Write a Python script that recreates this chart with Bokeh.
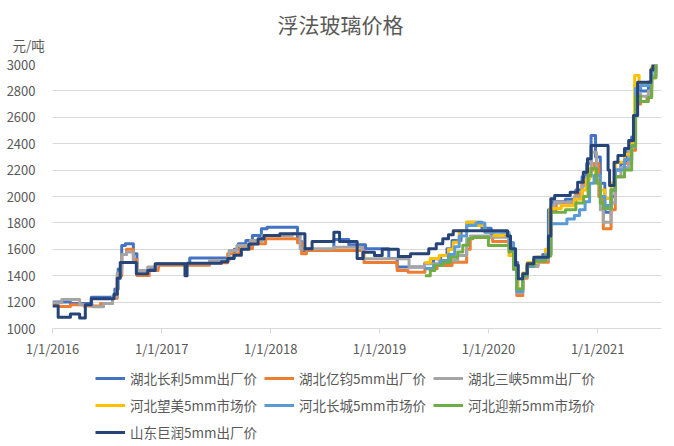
import pandas as pd
from bokeh.plotting import figure
from bokeh.layouts import column
from bokeh.models import FixedTicker, Legend, LegendItem, Title, Range1d
from bokeh.embed import file_html
from bokeh.resources import INLINE

title_text = "浮法玻璃价格"
unit_text = "元/吨"
x_tick_dates = ["2016-01-01", "2017-01-01", "2018-01-01", "2019-01-01", "2020-01-01", "2021-01-01"]
x_tick_labels = ["1/1/2016", "1/1/2017", "1/1/2018", "1/1/2019", "1/1/2020", "1/1/2021"]
y_ticks = [1000, 1200, 1400, 1600, 1800, 2000, 2200, 2400, 2600, 2800, 3000]

names = ["湖北长利5mm出厂价", "湖北亿钧5mm出厂价", "湖北三峡5mm出厂价",
         "河北望美5mm市场价", "河北长城5mm市场价", "河北迎新5mm市场价",
         "山东巨润5mm出厂价"]
colors = ["#4472C4", "#ED7D31", "#A5A5A5", "#FFC000", "#5B9BD5", "#70AD47", "#264478"]

# 湖北长利
cl_dates = ["2016-01-01", "2016-03-01", "2016-05-10", "2016-07-28", "2016-08-08", "2016-08-20", "2016-09-01",
            "2016-09-28", "2016-10-10", "2016-11-20", "2016-12-20", "2017-04-05", "2017-09-01", "2017-09-15",
            "2017-10-10", "2017-11-01", "2017-12-01", "2017-12-20", "2018-04-01", "2018-04-15", "2018-08-01",
            "2018-09-20", "2018-11-15", "2019-02-01", "2019-03-01", "2019-06-01", "2019-07-01", "2019-07-25",
            "2019-08-15", "2019-09-01", "2019-10-01", "2019-10-20", "2019-12-10", "2020-01-10", "2020-03-10",
            "2020-03-25", "2020-04-08", "2020-04-25", "2020-05-10", "2020-06-01", "2020-07-01", "2020-07-20",
            "2020-08-01", "2020-09-15", "2020-10-20", "2020-11-10", "2020-11-25", "2020-12-10", "2020-12-25",
            "2021-01-10", "2021-01-25", "2021-02-15", "2021-03-01", "2021-03-20", "2021-04-10", "2021-04-25",
            "2021-05-08", "2021-05-25", "2021-06-20", "2021-07-01", "2021-07-15"]
cl_vals = [1200, 1190, 1237, 1300, 1450, 1629, 1642,
           1566, 1440, 1460, 1490, 1535, 1600, 1642,
           1667, 1705, 1755, 1767, 1660, 1590, 1674,
           1634, 1604, 1530, 1465, 1492, 1528, 1553,
           1604, 1667, 1742, 1805, 1760, 1705, 1650,
           1500, 1288, 1400, 1480, 1520, 1560, 1900,
           1960, 1980, 2050, 2150, 2250, 2462, 2300,
           2100, 1881, 2000, 2200, 2250, 2350, 2450,
           2850, 2800, 2830, 2950, 3020]

# 湖北亿钧
yj_dates = ["2016-01-01", "2016-01-20", "2016-03-01", "2016-04-15", "2016-06-10", "2016-07-20", "2016-08-05",
            "2016-08-20", "2016-09-05", "2016-09-28", "2016-10-10", "2016-11-20", "2016-12-20", "2017-06-10",
            "2017-08-10", "2017-09-20", "2017-11-01", "2017-12-15", "2018-04-01", "2018-04-15", "2018-05-01",
            "2018-11-10", "2019-03-01", "2019-04-07", "2019-06-02", "2019-07-13", "2019-09-01", "2019-10-20",
            "2019-11-01", "2020-01-15", "2020-03-10", "2020-03-25", "2020-04-05", "2020-04-25", "2020-05-10",
            "2020-06-15", "2020-07-20", "2020-07-28", "2020-08-15", "2020-10-20", "2020-11-10", "2020-12-01",
            "2020-12-20", "2021-01-05", "2021-01-20", "2021-02-15", "2021-03-01", "2021-04-01", "2021-04-25",
            "2021-05-08", "2021-05-25", "2021-06-15", "2021-07-01", "2021-07-15"]
yj_vals = [1180, 1167, 1180, 1170, 1190, 1230, 1400,
           1560, 1600, 1520, 1401, 1440, 1480, 1498,
           1566, 1604, 1642, 1680, 1650, 1566, 1591,
           1500, 1440, 1427, 1452, 1477, 1502, 1600,
           1690, 1660, 1600, 1450, 1250, 1380, 1480,
           1502, 1560, 1900, 1950, 2020, 2100, 2200,
           2250, 2000, 1755, 1900, 2150, 2250, 2350,
           2700, 2720, 2760, 2900, 3000]

# 湖北三峡
sx_dates = ["2016-01-01", "2016-02-01", "2016-04-01", "2016-05-15", "2016-06-20", "2016-07-20", "2016-08-05",
            "2016-08-20", "2016-09-05", "2016-09-28", "2016-10-10", "2016-11-15", "2016-12-15", "2017-06-10",
            "2017-08-15", "2017-09-10", "2017-10-25", "2017-12-05", "2018-03-15", "2018-04-10", "2018-08-01",
            "2018-11-05", "2019-04-10", "2019-06-01", "2019-07-20", "2019-09-20", "2019-10-20", "2019-11-01",
            "2020-01-10", "2020-03-10", "2020-03-25", "2020-04-05", "2020-04-25", "2020-05-10", "2020-06-15",
            "2020-07-20", "2020-07-28", "2020-08-10", "2020-10-15", "2020-11-10", "2020-11-25", "2020-12-10",
            "2020-12-28", "2021-01-10", "2021-01-20", "2021-02-15", "2021-03-01", "2021-03-20", "2021-04-15",
            "2021-05-08", "2021-05-25", "2021-06-20", "2021-07-01", "2021-07-15"]
sx_vals = [1195, 1220, 1180, 1165, 1190, 1240, 1420,
           1560, 1580, 1500, 1440, 1465, 1490, 1515,
           1591, 1629, 1667, 1705, 1717, 1604, 1616,
           1528, 1465, 1490, 1515, 1553, 1680, 1700,
           1692, 1640, 1450, 1270, 1390, 1470, 1520,
           1580, 1930, 1957, 2000, 2080, 2150, 2336,
           2150, 1900, 1805, 1950, 2150, 2220, 2380,
           2780, 2760, 2800, 2920, 3010]

# 河北望美
wm_dates = ["2019-06-01", "2019-06-20", "2019-07-20", "2019-08-20", "2019-09-05", "2019-09-25", "2019-10-20",
            "2019-11-20", "2019-12-20", "2020-01-20", "2020-02-20", "2020-03-10", "2020-03-25", "2020-04-08",
            "2020-04-25", "2020-05-10", "2020-06-10", "2020-07-10", "2020-07-25", "2020-09-01", "2020-10-15",
            "2020-11-10", "2020-11-25", "2020-12-05", "2020-12-25", "2021-01-10", "2021-01-25", "2021-02-15",
            "2021-03-01", "2021-04-01", "2021-04-25", "2021-05-05", "2021-05-20", "2021-06-20", "2021-07-01",
            "2021-07-15"]
wm_vals = [1500, 1530, 1553, 1600, 1654, 1742, 1805,
           1780, 1730, 1705, 1717, 1553, 1450, 1300,
           1420, 1500, 1540, 1600, 1909, 1930, 1980,
           2050, 2130, 2212, 2150, 2050, 1985, 2100,
           2260, 2320, 2400, 2917, 2850, 2870, 2980,
           3030]

# 河北长城
cc_dates = ["2019-06-01", "2019-07-01", "2019-07-25", "2019-08-20", "2019-09-10", "2019-09-25", "2019-10-20",
            "2019-11-20", "2019-12-20", "2020-03-10", "2020-03-25", "2020-04-05", "2020-04-25", "2020-05-10",
            "2020-06-01", "2020-07-10", "2020-07-28", "2020-09-20", "2020-10-15", "2020-11-01", "2020-11-20",
            "2020-12-05", "2020-12-20", "2021-01-10", "2021-01-25", "2021-02-15", "2021-03-01", "2021-04-01",
            "2021-04-25", "2021-05-08", "2021-05-25", "2021-06-20", "2021-07-01", "2021-07-15"]
cc_vals = [1455, 1480, 1515, 1560, 1620, 1700, 1780,
           1800, 1730, 1640, 1450, 1280, 1400, 1470,
           1520, 1560, 1793, 1830, 1856, 1900, 1960,
           2100, 2159, 2000, 1932, 2050, 2200, 2280,
           2380, 2820, 2840, 2860, 2960, 3020]

# 河北迎新
yx_dates = ["2019-06-02", "2019-06-20", "2019-07-05", "2019-08-02", "2019-08-27", "2019-09-20", "2019-10-07",
            "2019-10-26", "2019-11-10", "2020-01-01", "2020-03-10", "2020-03-25", "2020-04-05", "2020-04-25",
            "2020-05-10", "2020-06-01", "2020-07-10", "2020-07-28", "2020-09-15", "2020-10-20", "2020-11-15",
            "2020-11-30", "2020-12-10", "2020-12-28", "2021-01-10", "2021-01-20", "2021-02-15", "2021-03-01",
            "2021-04-01", "2021-04-25", "2021-05-08", "2021-05-25", "2021-06-20", "2021-07-01", "2021-07-15"]
yx_vals = [1400, 1440, 1480, 1500, 1540, 1580, 1630,
           1680, 1692, 1629, 1580, 1450, 1300, 1400,
           1480, 1510, 1550, 1880, 1900, 1950, 2000,
           2160, 2212, 2100, 1950, 1909, 2050, 2150,
           2200, 2386, 2760, 2720, 2750, 2900, 3000]

# 山东巨润
jr_dates = ["2016-01-01", "2016-01-20", "2016-03-01", "2016-04-01", "2016-04-20", "2016-05-10", "2016-07-25",
            "2016-08-05", "2016-08-15", "2016-10-08", "2016-11-15", "2016-12-10", "2017-03-20", "2017-03-27",
            "2017-07-20", "2017-08-10", "2017-08-31", "2017-09-25", "2017-10-20", "2017-11-20", "2017-12-10",
            "2018-02-01", "2018-04-26", "2018-05-20", "2018-08-01", "2018-08-20", "2018-10-18", "2018-11-07",
            "2018-12-15", "2019-01-10", "2019-03-05", "2019-04-15", "2019-06-15", "2019-07-10", "2019-08-01",
            "2019-08-20", "2019-09-05", "2020-03-05", "2020-03-15", "2020-04-01", "2020-04-10", "2020-04-25",
            "2020-05-10", "2020-06-01", "2020-07-20", "2020-07-28", "2020-08-10", "2020-10-01", "2020-10-26",
            "2020-11-14", "2020-11-28", "2020-12-10", "2021-02-05", "2021-02-10", "2021-02-25", "2021-03-10",
            "2021-04-01", "2021-04-15", "2021-05-01", "2021-05-15", "2021-06-28", "2021-07-05", "2021-07-15"]
jr_vals = [1170, 1085, 1110, 1080, 1180, 1225, 1260,
           1380, 1500, 1415, 1440, 1490, 1400, 1495,
           1505, 1530, 1555, 1600, 1640, 1680, 1705,
           1717, 1604, 1660, 1730, 1660, 1530, 1578,
           1553, 1600, 1545, 1566, 1604, 1642, 1680,
           1710, 1740, 1700, 1604, 1480, 1376, 1414,
           1490, 1540, 1700, 1983, 2008, 2033, 2108,
           2184, 2286, 2386, 2200, 2083, 2260, 2311,
           2363, 2424, 2614, 2866, 2960, 3017, 3030]

series = [(cl_dates, cl_vals), (yj_dates, yj_vals), (sx_dates, sx_vals), (wm_dates, wm_vals),
          (cc_dates, cc_vals), (yx_dates, yx_vals), (jr_dates, jr_vals)]

FONT = "Noto Sans CJK SC"
TXT = "#595959"
GRID = "#D9D9D9"

# ---- main chart ----
x_start, x_end = pd.Timestamp("2016-01-01"), pd.Timestamp("2021-08-03")
p = figure(x_axis_type="datetime", output_backend="svg", toolbar_location=None,
           frame_width=609, frame_height=264,
           min_border_left=52, min_border_right=13, min_border_top=64, min_border_bottom=32,
           x_range=Range1d(x_start, x_end), y_range=Range1d(1000, 3000))
p.outline_line_color = None
p.background_fill_color = "white"
p.border_fill_color = "white"

p.xgrid.grid_line_color = None
p.ygrid.grid_line_color = GRID
p.ygrid.grid_line_width = 1

p.yaxis.ticker = FixedTicker(ticks=y_ticks)
p.yaxis.axis_line_color = None
p.yaxis.major_tick_line_color = None
p.yaxis.minor_tick_line_color = None
p.yaxis.major_label_text_color = TXT
p.yaxis.major_label_text_font = FONT
p.yaxis.major_label_text_font_size = "13px"
p.yaxis.major_label_standoff = 11

x_ticks_ms = [pd.Timestamp(d).value // 10**6 for d in x_tick_dates]
p.xaxis.ticker = FixedTicker(ticks=x_ticks_ms)
p.xaxis.major_label_overrides = {t: lab for t, lab in zip(x_ticks_ms, x_tick_labels)}
p.xaxis.axis_line_color = GRID
p.xaxis.major_tick_line_color = GRID
p.xaxis.major_tick_out = 5
p.xaxis.major_tick_in = 0
p.xaxis.minor_tick_line_color = None
p.xaxis.major_label_text_color = TXT
p.xaxis.major_label_text_font = FONT
p.xaxis.major_label_text_font_size = "13px"
p.xaxis.major_label_standoff = 5

for (d, v), c in zip(series, colors):
    p.step(pd.to_datetime(d), v, mode="after", line_color=c, line_width=3, line_join="round")

unit_title = Title(text=unit_text, align="left", offset=-40, standoff=20, vertical_align="bottom",
                   text_font_size="13.5px", text_color=TXT, text_font=FONT, text_font_style="normal")
p.add_layout(unit_title, "above")

main_title = Title(text=title_text, align="left", offset=225, standoff=-32, vertical_align="bottom",
                   text_font_size="21px", text_color=TXT, text_font=FONT, text_font_style="normal")
p.add_layout(main_title, "above")

# ---- legend strip below the chart (same series data, outside the strip's visible range) ----
lg = figure(width=674, height=86, output_backend="svg", toolbar_location=None,
            x_axis_type="datetime", x_axis_location=None, y_axis_location=None,
            min_border_left=0, min_border_right=0, min_border_top=0, min_border_bottom=0,
            x_range=Range1d(x_start, x_end), y_range=Range1d(0, 1))
lg.outline_line_color = None
lg.grid.visible = False
lg.background_fill_color = "white"
lg.border_fill_color = "white"

key_renderers = [lg.step(pd.to_datetime(d), v, mode="after", line_color=c, line_width=3)
                 for (d, v), c in zip(series, colors)]
legend = Legend(items=[LegendItem(label=n, renderers=[r]) for n, r in zip(names, key_renderers)],
                ncols=3, orientation="horizontal", location=(43, 4),
                glyph_width=30, glyph_height=20, label_height=20, label_standoff=5,
                spacing=7, padding=0, margin=0,
                label_text_font_size="13.5px", label_text_color=TXT, label_text_font=FONT,
                border_line_color=None, background_fill_alpha=0)
lg.add_layout(legend)

layout = column(p, lg, spacing=0)
open("out.html", "w").write(file_html(layout, INLINE))
